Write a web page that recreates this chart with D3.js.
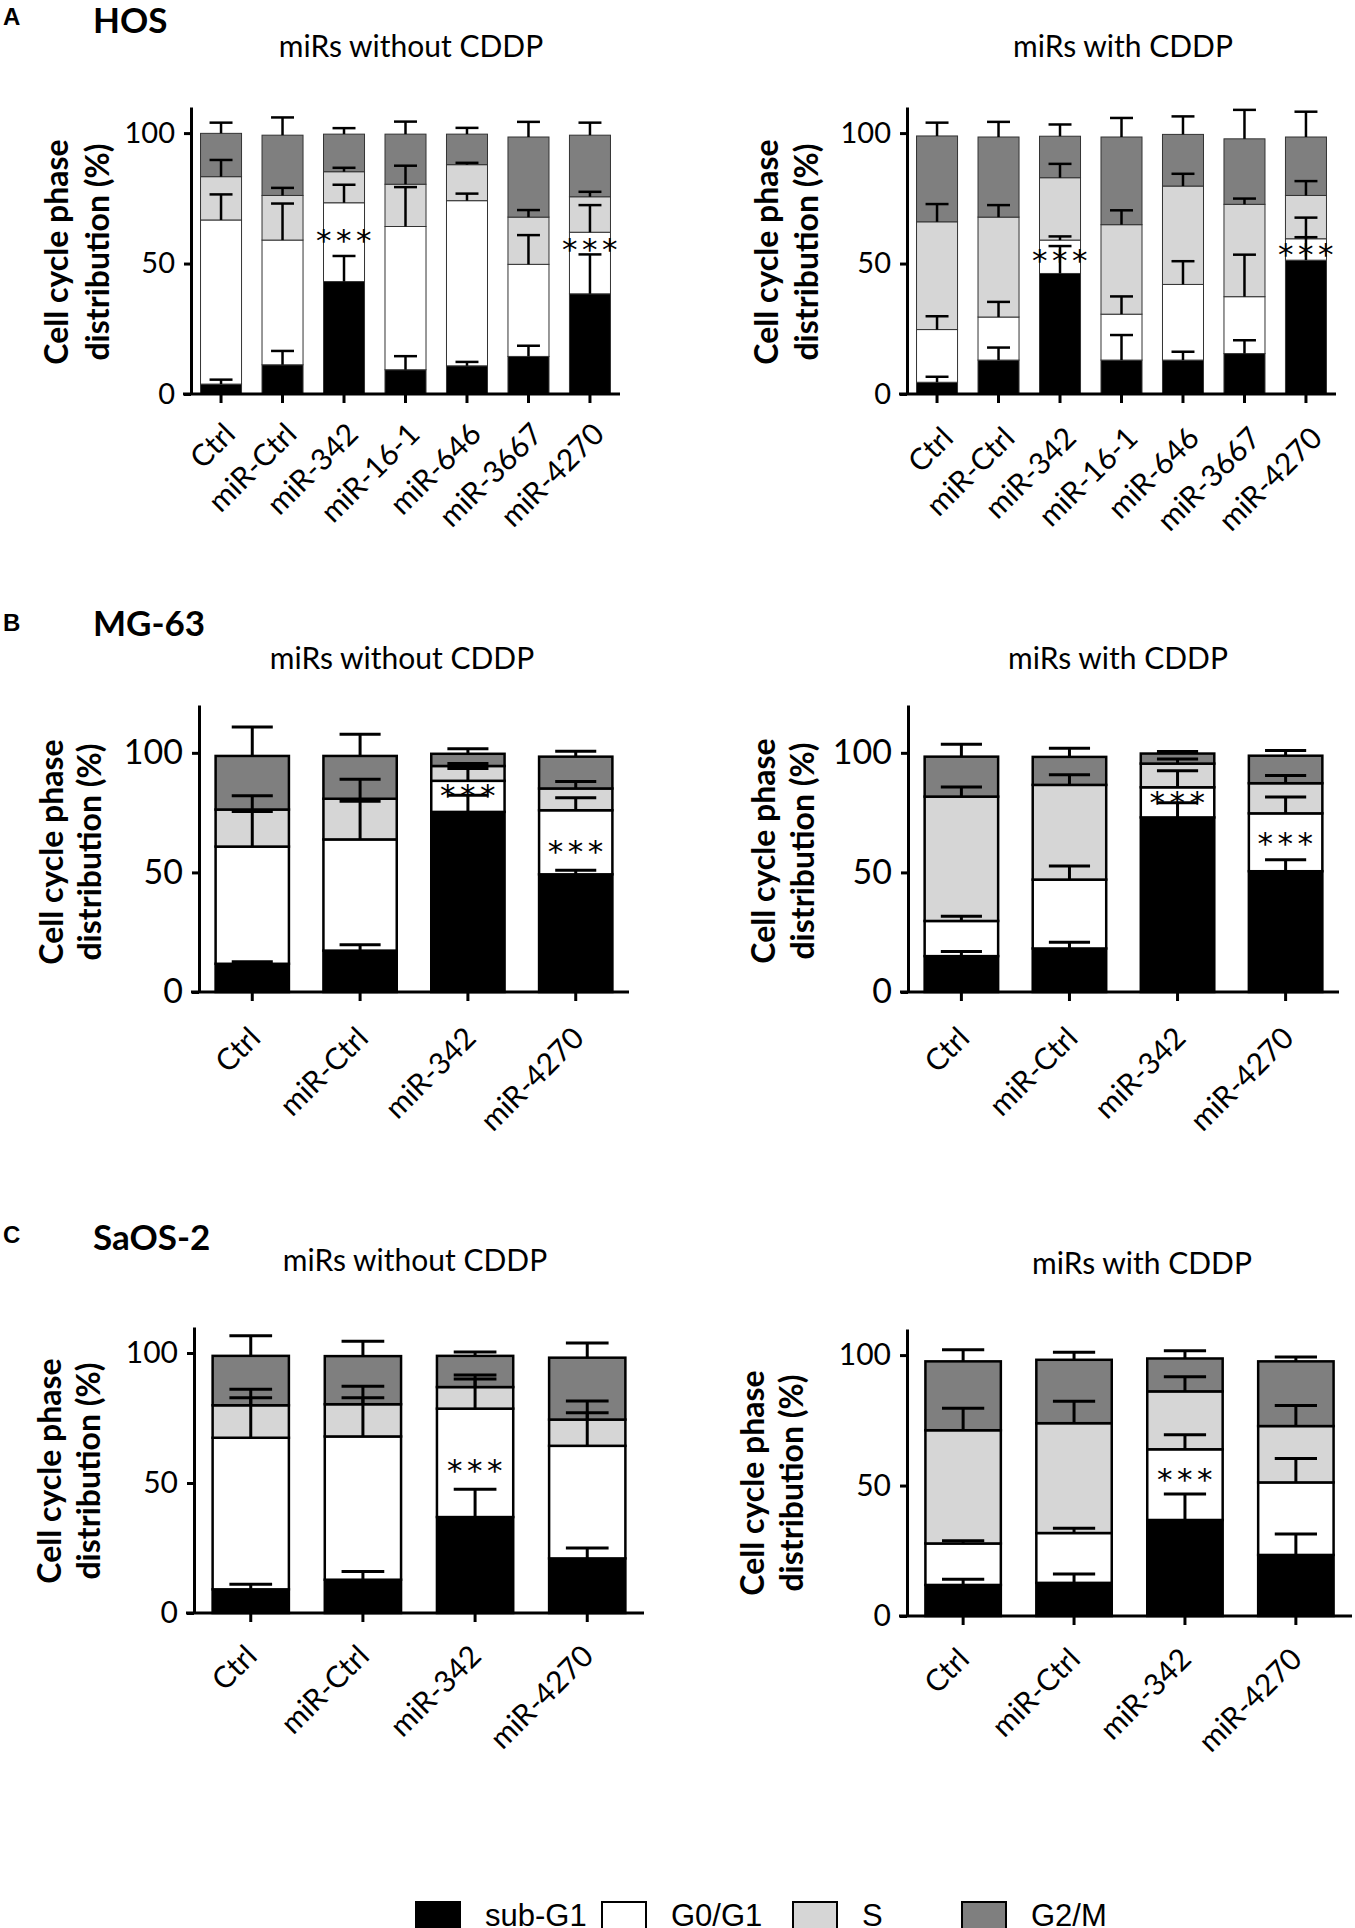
<!DOCTYPE html>
<html>
<head>
<meta charset="utf-8">
<script src="https://cdn.jsdelivr.net/npm/d3@7"></script>
<style>
  body { margin: 0; background: #fff; }
  svg { display: block; }
</style>
</head>
<body>
<div id="fig"></div>
<script>
// phases, stacked bottom -> top
var phases = ["sub-G1", "G0/G1", "S", "G2/M"];
var phaseColors = ["#000000", "#ffffff", "#d6d6d6", "#7f7f7f"];

var hosGroups = ["Ctrl", "miR-Ctrl", "miR-342", "miR-16-1", "miR-646", "miR-3667", "miR-4270"];
var smallGroups = ["Ctrl", "miR-Ctrl", "miR-342", "miR-4270"];
var yTicks = [0, 50, 100];

// mean % per phase (rows: sub-G1, G0/G1, S, G2/M), one column per group
var hosNoMean = [
  [3.8, 11.2, 43.1, 9.3, 10.8, 14.4, 38.4],
  [62.9, 47.8, 30.2, 54.9, 63.3, 35.3, 23.6],
  [16.6, 17.1, 11.9, 16.2, 13.8, 18.1, 13.6],
  [16.6, 23.1, 14.4, 19.2, 11.7, 30.7, 23.6]
];
var hosNoSem = [
  [1.7, 5.3, 9.8, 5.2, 1.5, 4.1, 15.1],
  [9.8, 14.0, 6.9, 15.1, 2.7, 11.2, 10.4],
  [6.4, 2.9, 1.5, 7.1, 0.7, 2.7, 1.9],
  [4.1, 6.8, 2.3, 4.8, 2.4, 5.8, 4.8]
];
var hosNoStars = [null, null, 60.8, null, null, null, 57.3];

var hosCddpMean = [
  [4.5, 13.0, 46.2, 13.0, 13.0, 15.5, 51.3],
  [20.2, 16.5, 12.8, 17.6, 29.0, 21.8, 8.2],
  [41.3, 38.3, 23.9, 34.3, 37.7, 35.4, 16.6],
  [32.9, 30.7, 15.9, 33.6, 19.8, 25.1, 22.4]
];
var hosCddpSem = [
  [2.1, 4.8, 10.5, 9.6, 3.2, 5.1, 8.8],
  [5.1, 5.8, 1.4, 6.8, 8.9, 16.1, 8.1],
  [6.8, 4.6, 5.3, 5.5, 4.7, 2.2, 5.5],
  [5.1, 5.8, 4.5, 7.3, 6.9, 11.1, 9.7]
];
var hosCddpStars = [null, null, 53.2, null, null, null, 55.7];

var mgNoMean = [
  [11.8, 17.3, 75.3, 49.2],
  [49.0, 46.5, 13.0, 26.8],
  [15.5, 17.0, 6.2, 9.1],
  [22.4, 17.9, 5.1, 13.3]
];
var mgNoSem = [
  [0.9, 2.5, 7.0, 1.7],
  [14.7, 16.0, 5.1, 5.2],
  [5.8, 8.2, 1.0, 2.9],
  [12.1, 9.1, 2.1, 2.3]
];
var mgNoStars = [null, null, 84.3, 60.9];

var mgCddpMean = [
  [15.0, 18.2, 73.0, 50.5],
  [14.7, 28.8, 12.6, 24.2],
  [52.0, 39.6, 9.9, 12.6],
  [16.7, 11.7, 4.2, 11.5]
];
var mgCddpSem = [
  [1.9, 2.6, 6.1, 4.8],
  [2.0, 5.7, 6.9, 6.8],
  [4.0, 4.2, 1.9, 3.2],
  [5.2, 3.6, 0.9, 2.2]
];
var mgCddpStars = [null, null, 81.4, 64.5];

var saosNoMean = [
  [9.1, 12.8, 36.9, 21.0],
  [58.3, 55.1, 41.7, 43.3],
  [12.5, 12.4, 8.3, 10.1],
  [19.0, 18.5, 12.0, 23.8]
];
var saosNoSem = [
  [2.0, 3.2, 10.7, 4.0],
  [15.4, 14.9, 11.4, 12.7],
  [6.2, 6.9, 4.6, 7.1],
  [7.7, 5.7, 1.5, 5.6]
];
var saosNoStars = [null, null, 56.8, null];

var saosCddpMean = [
  [11.9, 12.7, 36.8, 23.4],
  [15.9, 19.1, 27.1, 27.8],
  [43.4, 42.1, 22.2, 21.6],
  [26.4, 24.3, 12.6, 24.8]
];
var saosCddpSem = [
  [2.2, 3.4, 10.0, 8.0],
  [1.0, 1.8, 5.6, 9.2],
  [8.4, 8.4, 5.6, 7.9],
  [4.4, 2.9, 3.0, 1.7]
];
var saosCddpStars = [null, null, 54.5, null];

var W = 1355, H = 1928;
var FONT = "Lato, 'Open Sans', sans-serif";

var svg = d3.select("#fig").append("svg")
    .attr("width", W)
    .attr("height", H)
    .style("font-family", FONT);

svg.append("rect").attr("width", W).attr("height", H).attr("fill", "#fff");

// layout of the six panels (pixels)
var panels = [
  {title: "miRs without CDDP", groups: hosGroups, mean: hosNoMean, sem: hosNoSem, stars: hosNoStars,
   x0: 191, x1: 620, y0: 394, yTop: 107, ymax: 110, pi: 0.333, po: 0.155, titleX: 411, titleY: 57,
   tickFont: 29, outline: "#333", outlineW: 1, errW: 2.5, labDx: 16, labDy: 42,
   yl1: 68, yl2: 109, ylY: 252},
  {title: "miRs with CDDP", groups: hosGroups, mean: hosCddpMean, sem: hosCddpSem, stars: hosCddpStars,
   x0: 907, x1: 1336, y0: 394, yTop: 107, ymax: 110, pi: 0.333, po: 0.155, titleX: 1123, titleY: 57,
   tickFont: 29, outline: "#333", outlineW: 1, errW: 2.5, labDx: 18, labDy: 46,
   yl1: 778, yl2: 818, ylY: 252},
  {title: "miRs without CDDP", groups: smallGroups, mean: mgNoMean, sem: mgNoSem, stars: mgNoStars,
   x0: 199, x1: 629, y0: 992, yTop: 705, ymax: 120, pi: 0.32, po: 0.154, titleX: 402, titleY: 669,
   tickFont: 34, outline: "#000", outlineW: 2.5, errW: 3, labDx: 10, labDy: 48,
   yl1: 63, yl2: 101, ylY: 852},
  {title: "miRs with CDDP", groups: smallGroups, mean: mgCddpMean, sem: mgCddpSem, stars: mgCddpStars,
   x0: 908, x1: 1339, y0: 992, yTop: 705, ymax: 120, pi: 0.32, po: 0.154, titleX: 1118, titleY: 669,
   tickFont: 34, outline: "#000", outlineW: 2.5, errW: 3, labDx: 10, labDy: 48,
   yl1: 775, yl2: 814, ylY: 851},
  {title: "miRs without CDDP", groups: smallGroups, mean: saosNoMean, sem: saosNoSem, stars: saosNoStars,
   x0: 194, x1: 644, y0: 1613, yTop: 1327, ymax: 110, pi: 0.32, po: 0.166, titleX: 415, titleY: 1271,
   tickFont: 30, outline: "#000", outlineW: 2.5, errW: 3, labDx: 8, labDy: 45,
   yl1: 61, yl2: 100, ylY: 1471},
  {title: "miRs with CDDP", groups: smallGroups, mean: saosCddpMean, sem: saosCddpSem, stars: saosCddpStars,
   x0: 907, x1: 1352, y0: 1616, yTop: 1329, ymax: 110, pi: 0.32, po: 0.166, titleX: 1142, titleY: 1274,
   tickFont: 30, outline: "#000", outlineW: 2.5, errW: 3, labDx: 8, labDy: 45,
   yl1: 764, yl2: 803, ylY: 1483}
];

panels.forEach(drawPanel);

function drawPanel(p) {
  var g = svg.append("g");

  var x = d3.scaleBand()
      .domain(p.groups)
      .range([p.x0, p.x1])
      .paddingInner(p.pi)
      .paddingOuter(p.po);

  var y = d3.scaleLinear()
      .domain([0, p.ymax])
      .range([p.y0, p.yTop]);

  var rows = p.groups.map(function (name, i) {
    var r = {group: name};
    phases.forEach(function (ph, k) { r[ph] = p.mean[k][i]; });
    return r;
  });
  var series = d3.stack().keys(phases)(rows);

  // stacked segments
  series.forEach(function (s, k) {
    g.append("g").selectAll("rect")
      .data(s)
      .join("rect")
      .attr("x", function (d) { return x(d.data.group); })
      .attr("width", x.bandwidth())
      .attr("y", function (d) { return y(d[1]); })
      .attr("height", function (d) { return y(d[0]) - y(d[1]); })
      .attr("fill", phaseColors[k])
      .attr("stroke", p.outline)
      .attr("stroke-width", p.outlineW);
  });

  // error bars go up from the top of each segment
  var errs = [];
  series.forEach(function (s, k) {
    s.forEach(function (d, i) {
      errs.push({group: d.data.group, top: d[1], hi: d[1] + p.sem[k][i]});
    });
  });
  var cap = x.bandwidth() * 0.28;
  var eg = g.append("g").attr("stroke", "#000").attr("stroke-width", p.errW);
  eg.selectAll("line.v").data(errs).join("line")
    .attr("class", "v")
    .attr("x1", function (d) { return x(d.group) + x.bandwidth() / 2; })
    .attr("x2", function (d) { return x(d.group) + x.bandwidth() / 2; })
    .attr("y1", function (d) { return y(d.top); })
    .attr("y2", function (d) { return y(d.hi); });
  eg.selectAll("line.c").data(errs).join("line")
    .attr("class", "c")
    .attr("x1", function (d) { return x(d.group) + x.bandwidth() / 2 - cap; })
    .attr("x2", function (d) { return x(d.group) + x.bandwidth() / 2 + cap; })
    .attr("y1", function (d) { return y(d.hi); })
    .attr("y2", function (d) { return y(d.hi); });

  // significance stars
  g.append("g").selectAll("text")
    .data(p.groups.map(function (name, i) { return {group: name, v: p.stars[i]}; })
      .filter(function (d) { return d.v != null; }))
    .join("text")
    .attr("x", function (d) { return x(d.group) + x.bandwidth() / 2 + 2; })
    .attr("y", function (d) { return y(d.v) + 16; })
    .attr("text-anchor", "middle")
    .attr("font-family", "'DejaVu Sans', sans-serif")
    .attr("font-size", 31)
    .attr("letter-spacing", "4.5px")
    .attr("fill", "#000")
    .text("***");

  // y axis
  var ya = g.append("g")
    .attr("transform", "translate(" + p.x0 + ",0)")
    .call(d3.axisLeft(y).tickValues(yTicks).tickSize(7).tickSizeOuter(0).tickPadding(9));
  ya.selectAll("path, line").attr("stroke", "#000").attr("stroke-width", 3);
  ya.selectAll("text")
    .attr("font-size", p.tickFont)
    .attr("font-family", FONT)
    .attr("fill", "#000");

  // x axis
  var xa = g.append("g")
    .attr("transform", "translate(0," + p.y0 + ")")
    .call(d3.axisBottom(x).tickSize(9).tickSizeOuter(0));
  xa.select(".domain").attr("d", "M" + (p.x0 - 8) + ",0H" + p.x1);
  xa.selectAll("path, line").attr("stroke", "#000").attr("stroke-width", 3);
  xa.selectAll("text")
    .attr("font-size", 30)
    .attr("font-family", FONT)
    .attr("fill", "#000")
    .attr("text-anchor", "end")
    .attr("x", 0).attr("y", 0).attr("dy", 0)
    .attr("transform", "translate(" + p.labDx + "," + p.labDy + ") rotate(-45)");

  // y axis title, two lines
  [["Cell cycle phase", p.yl1], ["distribution (%)", p.yl2]].forEach(function (t) {
    g.append("text")
      .attr("transform", "translate(" + t[1] + "," + p.ylY + ") rotate(-90)")
      .attr("text-anchor", "middle")
      .attr("font-size", 32)
      .attr("font-weight", "bold")
      .text(t[0]);
  });

  // panel title
  g.append("text")
    .attr("x", p.titleX)
    .attr("y", p.titleY)
    .attr("text-anchor", "middle")
    .attr("font-size", 30)
    .text(p.title);
}

// panel letters and cell line names
var heads = [["A", "HOS", 25, 33], ["B", "MG-63", 631, 636], ["C", "SaOS-2", 1243, 1250]];
heads.forEach(function (h) {
  svg.append("text")
    .attr("x", 3).attr("y", h[2])
    .attr("font-family", "'Liberation Sans', Arial, sans-serif")
    .attr("font-weight", "bold")
    .attr("font-size", 24)
    .text(h[0]);
  svg.append("text")
    .attr("x", 93).attr("y", h[3])
    .attr("font-weight", "bold")
    .attr("font-size", 35)
    .text(h[1]);
});

// legend along the bottom edge
var legX = [416, 602, 793, 962];
var lg = svg.append("g").attr("font-family", "'Liberation Sans', Arial, sans-serif");
lg.selectAll("rect").data(phases).join("rect")
  .attr("x", function (d, i) { return legX[i]; })
  .attr("y", 1902)
  .attr("width", 44)
  .attr("height", 34)
  .attr("fill", function (d, i) { return phaseColors[i]; })
  .attr("stroke", "#000")
  .attr("stroke-width", 2);
lg.selectAll("text").data(phases).join("text")
  .attr("x", function (d, i) { return legX[i] + 69; })
  .attr("y", 1926)
  .attr("font-size", 31)
  .text(function (d) { return d; });
</script>
</body>
</html>
